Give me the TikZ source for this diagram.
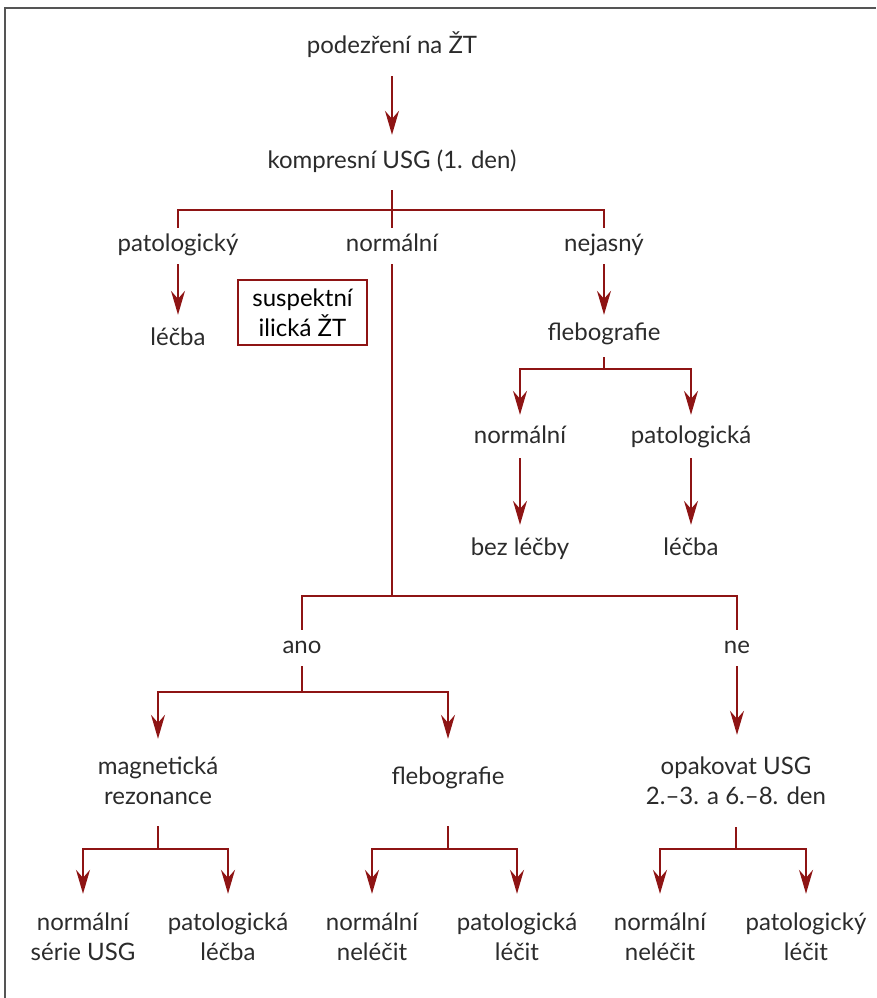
\documentclass[tikz,border=0pt]{standalone}
\usepackage{fontspec}
\setmainfont{Lato}
\usetikzlibrary{arrows.meta}
\definecolor{ink}{HTML}{2B2B2B}
\definecolor{wine}{HTML}{8E1414}
\definecolor{framec}{HTML}{555555}
\tikzset{
  lbl/.style={font=\fontsize{24}{30}\selectfont, text=ink, text height=16pt, text depth=5pt, inner xsep=2pt, inner ysep=7.5pt},
  ml/.style={font=\fontsize{24}{30}\selectfont, text=ink, inner xsep=2pt, inner ysep=0pt, minimum height=64pt, align=center},
  boxed/.style={font=\fontsize{24}{30}\selectfont, text=black, draw=wine, line width=1.5pt, minimum width=129pt, minimum height=65pt, inner sep=0pt, align=center},
  ln/.style={draw=wine, line width=1.6pt},
  arr/.style={ln, -{Stealth[length=24pt,width=14pt,inset=8pt]}},
}
\begin{document}
\begin{tikzpicture}[x=1pt,y=-1pt]
\useasboundingbox (0,0) rectangle (876,998);
\draw[framec, line width=2pt] (5,998) -- (5,8) -- (876,8);

% nodes
\node[lbl] (start) at (392,48) {podezření na ŽT};
\node[lbl] (usg) at (392,163) {kompresní USG (1. den)};
\node[lbl] (pat1) at (178,246) {patologický};
\node[lbl] (norm1) at (392,246) {normální};
\node[lbl] (nej) at (604,246) {nejasný};
\node[lbl] (lecba1) at (178,340) {léčba};
\node[boxed] (susp) at (302.5,312.5) {suspektní\\ilická ŽT};
\node[lbl] (fleb1) at (604,335) {flebografie};
\node[lbl] (norm2) at (520,438) {normální};
\node[lbl] (pat2) at (691,438) {patologická};
\node[lbl] (bez) at (520,550) {bez léčby};
\node[lbl] (lecba2) at (691,550) {léčba};
\node[lbl] (ano) at (302,648) {ano};
\node[lbl] (ne) at (737,648) {ne};
\node[ml] (mag) at (158,781) {magnetická\\rezonance};
\node[lbl] (fleb2) at (448,779) {flebografie};
\node[ml] (opak) at (736,781) {opakovat USG\\2.–3. a 6.–8. den};
\node[ml] (b1) at (83,937) {normální\\série USG};
\node[ml] (b2) at (228,937) {patologická\\léčba};
\node[ml] (b3) at (372,937) {normální\\neléčit};
\node[ml] (b4) at (517,937) {patologická\\léčit};
\node[ml] (b5) at (660,937) {normální\\neléčit};
\node[ml] (b6) at (806,937) {patologický\\léčit};

% junctions
\coordinate (j1) at (392,210);
\coordinate (j2) at (604,369);
\coordinate (j3) at (392,596);
\coordinate (j4) at (302,692);
\coordinate (j5) at (158,849);
\coordinate (j6) at (448,849);
\coordinate (j7) at (736,849);

% connectors
\draw[arr, shorten <=10pt, shorten >=10pt] (start.south) -- (usg.north);
\draw[ln, shorten <=9pt] (usg.south) -- (j1);
\draw[ln] (j1) -| (pat1.north);
\draw[ln] (j1) -| (nej.north);
\draw[ln] (j1) -- (norm1.north);
\draw[arr, shorten >=7pt] (pat1.south) -- (lecba1.north);
\draw[arr, shorten >=2pt] (nej.south) -- (fleb1.north);
\draw[ln, shorten <=4pt] (fleb1.south) -- (j2);
\draw[arr, shorten >=5pt] (j2) -| (norm2.north);
\draw[arr, shorten >=5pt] (j2) -| (pat2.north);
\draw[arr, shorten <=2pt, shorten >=7pt] (norm2.south) -- (bez.north);
\draw[arr, shorten <=2pt, shorten >=7pt] (pat2.south) -- (lecba2.north);
\draw[ln] (norm1.south) -- (j3);
\draw[ln] (j3) -| (ano.north);
\draw[ln] (j3) -| (ne.north);
\draw[ln] (ano.south) -- (j4);
\draw[arr, shorten >=10pt] (j4) -| (mag.north);
\draw[arr, shorten >=22pt] (j4) -| (fleb2.north);
\draw[arr, shorten >=14pt] (ne.south) -- (ne.south |- opak.north);
\draw[ln, shorten <=13pt] (mag.south) -- (j5);
\draw[arr, shorten >=11pt] (j5) -| (b1.north);
\draw[arr, shorten >=11pt] (j5) -| (b2.north);
\draw[ln, shorten <=29pt] (fleb2.south) -- (j6);
\draw[arr, shorten >=11pt] (j6) -| (b3.north);
\draw[arr, shorten >=11pt] (j6) -| (b4.north);
\draw[ln, shorten <=14pt] (opak.south) -- (j7);
\draw[arr, shorten >=11pt] (j7) -| (b5.north);
\draw[arr, shorten >=11pt] (j7) -| (b6.north);
\end{tikzpicture}
\end{document}
